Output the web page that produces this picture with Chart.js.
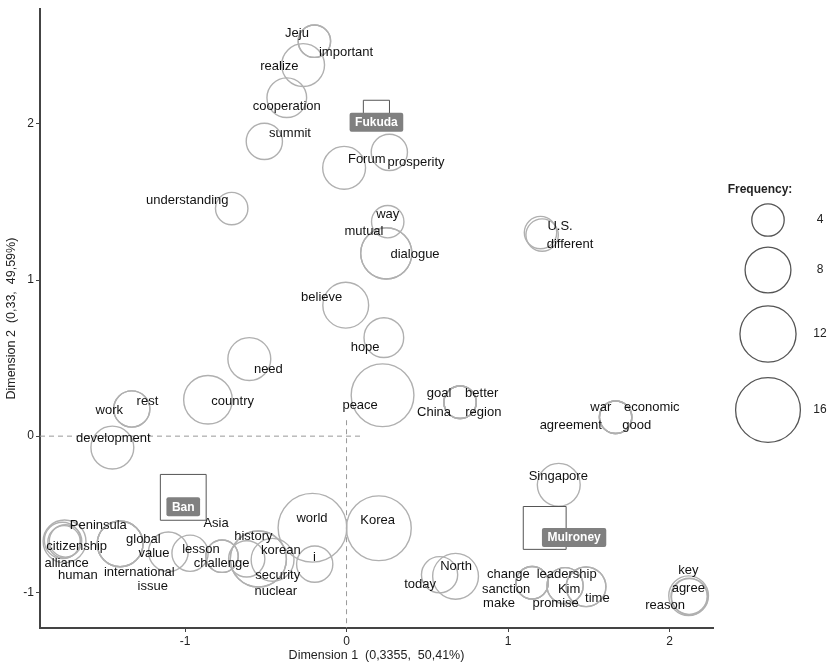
<!DOCTYPE html>
<html>
<head>
<meta charset="utf-8">
<script src="https://cdn.jsdelivr.net/npm/chart.js@4.4.1/dist/chart.umd.min.js"></script>
<style>
html,body{margin:0;padding:0;background:#fff;}
#wrap{width:829px;height:667px;}
</style>
</head>
<body>
<div id="wrap"><canvas id="c" width="829" height="667"></canvas></div>
<script>
// ---- column (word) points ----
const words = ["Jeju","important","realize","cooperation","summit","Forum","prosperity","understanding","way","mutual","dialogue","believe","hope","peace","goal","better","China","region","war","economic","agreement","good","U.S.","different","need","country","rest","work","development","Peninsula","citizenship","alliance","human","global","international","issue","value","lesson","Asia","challenge","history","korean","security","nuclear","i","world","Korea","Singapore","today","North","change","sanction","make","leadership","promise","Kim","time","key","agree","reason"];
const dim1 = [-0.199,-0.199,-0.269,-0.370,-0.509,-0.015,0.265,-0.711,0.255,0.246,0.246,-0.005,0.231,0.223,0.703,0.703,0.703,0.703,1.666,1.666,1.666,1.666,1.201,1.211,-0.602,-0.858,-1.330,-1.330,-1.450,-1.746,-1.759,-1.749,-1.740,-1.402,-1.402,-1.402,-1.103,-0.969,-0.771,-0.771,-0.618,-0.458,-0.546,-0.546,-0.197,-0.211,0.200,1.314,0.576,0.675,1.149,1.149,1.149,1.353,1.353,1.483,1.483,2.121,2.124,2.118];
const dim2 = [2.530,2.530,2.377,2.168,1.888,1.719,1.818,1.458,1.374,1.171,1.171,0.839,0.631,0.262,0.217,0.217,0.217,0.217,0.121,0.121,0.121,0.121,1.304,1.288,0.494,0.233,0.174,0.174,-0.073,-0.674,-0.668,-0.677,-0.671,-0.690,-0.690,-0.690,-0.741,-0.750,-0.769,-0.769,-0.786,-0.792,-0.787,-0.787,-0.820,-0.587,-0.590,-0.312,-0.888,-0.898,-0.939,-0.939,-0.939,-0.958,-0.958,-0.965,-0.965,-1.026,-1.029,-1.022];
const freq = [4,4,7,6,5,7,5,4,4,10,10,8,6,15,4,4,4,4,4,4,4,4,4,4,7,9,5,5,7,7,5,4,4,8,8,8,6,5,4,4,5,7,12,12,5,18,16,7,5,8,4,4,4,5,5,6,6,5,5,6];
// repelled label positions (data units)
const labelX = [-0.307,-0.003,-0.416,-0.370,-0.350,0.125,0.430,-0.986,0.255,0.108,0.424,-0.154,0.115,0.084,0.573,0.837,0.542,0.847,1.574,1.890,1.388,1.797,1.322,1.384,-0.484,-0.705,-1.233,-1.469,-1.444,-1.537,-1.671,-1.733,-1.664,-1.258,-1.283,-1.200,-1.192,-0.901,-0.808,-0.773,-0.577,-0.407,-0.426,-0.438,-0.199,-0.214,0.193,1.311,0.455,0.678,1.002,0.988,0.944,1.363,1.295,1.378,1.553,2.116,2.116,1.972];
const labelY = [2.581,2.460,2.369,2.109,1.942,1.772,1.753,1.508,1.423,1.310,1.167,0.890,0.567,0.198,0.273,0.273,0.155,0.155,0.183,0.183,0.066,0.066,1.342,1.225,0.426,0.224,0.224,0.166,-0.015,-0.569,-0.707,-0.813,-0.895,-0.660,-0.873,-0.965,-0.754,-0.724,-0.562,-0.816,-0.643,-0.735,-0.895,-0.995,-0.775,-0.526,-0.541,-0.260,-0.952,-0.835,-0.884,-0.984,-1.069,-0.884,-1.069,-0.984,-1.037,-0.861,-0.973,-1.086];

// ---- row (speaker) points ----
const rowNames = ["Fukuda","Ban","Mulroney"];
const rowDim1 = [0.185,-1.011,1.227];
const rowDim2 = [2.068,-0.392,-0.588];
const rowFreq = [2.6,8,7];
const rowLabelX = [0.185,-1.011,1.409];
const rowLabelY = [2.011,-0.452,-0.649];

// ---- axes / legend ----
const xTicks = [-1,0,1,2];
const yTicks = [-1,0,1,2];
const xRange = [-1.898,2.269];
const yRange = [-1.229,2.735];
const originGuide = 0.102;
const legendFreqs = [4,8,12,16];
const xTitle = "Dimension 1  (0,3355,  50,41%)";
const yTitle = "Dimension 2  (0,33,  49,59%)";

const rad = f => 8.1*Math.sqrt(f);
const FONT = '"Liberation Sans", Arial, sans-serif';

const overlay = {
  id:'overlay',
  afterDatasetsDraw(chart){
    const ctx = chart.ctx, xs = chart.scales.x, ys = chart.scales.y;
    ctx.save();
    // word labels
    ctx.font = '13px ' + FONT;
    ctx.fillStyle = '#111';
    ctx.textAlign = 'center';
    ctx.textBaseline = 'middle';
    words.forEach((w,i)=>{
      ctx.fillText(w, xs.getPixelForValue(labelX[i]), ys.getPixelForValue(labelY[i]));
    });
    // row labels
    ctx.font = 'bold 12px ' + FONT;
    rowNames.forEach((n,i)=>{
      const cx = xs.getPixelForValue(rowLabelX[i]), cy = ys.getPixelForValue(rowLabelY[i]);
      const tw = ctx.measureText(n).width;
      const w = tw + 11, h = 19;
      ctx.fillStyle = '#808080';
      ctx.beginPath();
      if (ctx.roundRect) ctx.roundRect(cx-w/2, cy-h/2, w, h, 2); else ctx.rect(cx-w/2, cy-h/2, w, h);
      ctx.fill();
      ctx.fillStyle = '#ffffff';
      ctx.fillText(n, cx, cy+0.5);
    });
    // size legend
    const lx = 768, ly = [220,270,334,410];
    ctx.fillStyle = '#222';
    ctx.font = 'bold 12px ' + FONT;
    ctx.fillText('Frequency:', 760, 190);
    ctx.font = '12px ' + FONT;
    ctx.strokeStyle = '#555';
    ctx.lineWidth = 1.3;
    legendFreqs.forEach((f,i)=>{
      ctx.beginPath();
      ctx.arc(lx, ly[i], rad(f), 0, Math.PI*2);
      ctx.stroke();
      ctx.fillStyle = '#222';
      ctx.fillText(String(f), 820, ly[i]);
    });
    ctx.restore();
  }
};

const wordData = words.map((w,i)=>({x:dim1[i], y:dim2[i], r:rad(freq[i])}));
const rowData = rowNames.map((n,i)=>({x:rowDim1[i], y:rowDim2[i]}));

new Chart(document.getElementById('c'), {
  type:'bubble',
  data:{
    datasets:[
      {type:'scatter', label:'rows', data:rowData, pointStyle:'rect',
       pointRadius: rowFreq.map(f=>rad(f)*Math.SQRT2), backgroundColor:'rgba(0,0,0,0)',
       borderColor:'#555', borderWidth:1, order:1, clip:false},
      {type:'bubble', label:'words', data:wordData, backgroundColor:'rgba(0,0,0,0)',
       borderColor:'#b0b0b0', borderWidth:1.4, order:2, clip:false},
      {type:'line', label:'h0', data:[{x:xRange[0],y:0},{x:originGuide,y:0}], showLine:true,
       borderColor:'#999', borderWidth:1, borderDash:[5,4], pointRadius:0, order:3, clip:false},
      {type:'line', label:'v0', data:[{x:0,y:originGuide},{x:0,y:yRange[0]}], showLine:true,
       borderColor:'#999', borderWidth:1, borderDash:[5,4], pointRadius:0, order:3, clip:false}
    ]
  },
  options:{
    responsive:false,
    animation:false,
    events:[],
    layout:{autoPadding:false, padding:{top:8,right:116,left:0,bottom:0}},
    plugins:{legend:{display:false}, tooltip:{enabled:false}},
    scales:{
      x:{type:'linear', min:xRange[0], max:xRange[1],
         afterBuildTicks:s=>{s.ticks = xTicks.map(v=>({value:v}));},
         afterFit:s=>{s.height = 39;},
         grid:{display:true, drawOnChartArea:false, drawTicks:true, tickLength:4, color:'#444', lineWidth:1},
         border:{display:true, color:'#444', width:2},
         ticks:{color:'#222', font:{family:FONT, size:12}, padding:2, callback:v=>String(v)},
         title:{display:true, text:xTitle, color:'#222', font:{family:FONT, size:12.5}, padding:{top:2,bottom:4}}},
      y:{type:'linear', min:yRange[0], max:yRange[1],
         afterBuildTicks:s=>{s.ticks = yTicks.map(v=>({value:v}));},
         afterFit:s=>{s.width = 40;},
         grid:{display:true, drawOnChartArea:false, drawTicks:true, tickLength:4, color:'#444', lineWidth:1},
         border:{display:true, color:'#444', width:2},
         ticks:{color:'#222', font:{family:FONT, size:12}, padding:2, callback:v=>String(v)},
         title:{display:true, text:yTitle, color:'#222', font:{family:FONT, size:12.5}, padding:{top:4,bottom:2}}}
    }
  },
  plugins:[overlay]
});
</script>
</body>
</html>
